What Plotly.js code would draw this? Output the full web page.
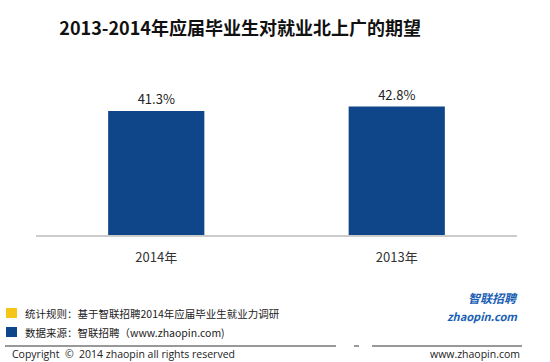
<!DOCTYPE html>
<html><head><meta charset="utf-8">
<script src="https://cdn.plot.ly/plotly-3.0.1.min.js"></script>
<style>html,body{margin:0;padding:0;background:#fff}#c{width:550px;height:362px}</style>
</head><body><div id="c"></div>
<script>
const categories = ["2014年", "2013年"];
const values = [41.3, 42.8];
const labels = ["41.3%", "42.8%"];
const titleText = "2013-2014年应届毕业生对就业北上广的期望";
const noteRule = "统计规则：基于智联招聘2014年应届毕业生就业力调研";
const noteSource = "数据来源：智联招聘（www.zhaopin.com)";
const copyright = "Copyright  ©  2014 zhaopin all rights reserved";
const site = "www.zhaopin.com";

const W = 550, H = 362, L = 36, R = 33, T = 85, B = 127;
const pw = W - L - R, ph = H - T - B;
const px = x => (x - L) / pw;
const py = y => (H - B - y) / ph;
const font = "'Noto Sans CJK SC', 'Noto Sans', sans-serif";
const latin = "'Open Sans', 'Noto Sans', sans-serif";

const trace = {
  type: "bar", x: categories, y: values, text: labels,
  textposition: "outside", texttemplate: "%{text}",
  textfont: {size: 13, color: "#222", family: font},
  marker: {color: "#0F4589"}, cliponaxis: false, hoverinfo: "none"
};

const ann = (x, y, text, opts) => Object.assign({
  xref: "paper", yref: "paper", x: px(x), y: py(y), text, showarrow: false,
  xanchor: "left", yanchor: "middle", borderpad: 0, font: {size: 10.5, color: "#222", family: font}
}, opts || {});

const layout = {
  width: W, height: H,
  margin: {l: L, r: R, t: T, b: B, pad: 0},
  paper_bgcolor: "#fff", plot_bgcolor: "#fff",
  showlegend: false, bargap: 0.6,
  title: {text: "<b>" + titleText + "</b>", x: px(246), xanchor: "center", y: 1 - 29 / H, yanchor: "middle",
          font: {size: 18, color: "#111", family: font}},
  xaxis: {showline: true, linecolor: "#cccccc", linewidth: 2, ticks: "", showgrid: false,
          tickfont: {size: 13, color: "#333", family: font}, ticklabelstandoff: 9, fixedrange: true},
  yaxis: {range: [0, 50], visible: false, showgrid: false, zeroline: false, fixedrange: true},
  shapes: [
    {type: "rect", xref: "paper", yref: "paper", x0: px(6), x1: px(17), y0: py(318), y1: py(308), fillcolor: "#F5C518", line: {width: 0}},
    {type: "rect", xref: "paper", yref: "paper", x0: px(6), x1: px(17), y0: py(337), y1: py(327), fillcolor: "#0F4589", line: {width: 0}},
    {type: "line", xref: "paper", yref: "paper", x0: px(5), x1: px(336), y0: py(346), y1: py(346), line: {color: "#333", width: 1}},
    {type: "line", xref: "paper", yref: "paper", x0: px(354), x1: px(359), y0: py(346), y1: py(346), line: {color: "#333", width: 1}},
    {type: "line", xref: "paper", yref: "paper", x0: px(372), x1: px(522), y0: py(346), y1: py(346), line: {color: "#333", width: 1}}
  ],
  annotations: [
    ann(24, 313, noteRule),
    ann(24, 332, noteSource),
    ann(11, 354, copyright, {font: {size: 10.5, color: "#222", family: latin}}),
    ann(521, 354, site, {xanchor: "right", font: {size: 10.5, color: "#222", family: latin}}),
    ann(519, 297, "<b><i>智联招聘</i></b>", {xanchor: "right", font: {size: 12, color: "#1a5fb4", family: font}}),
    ann(519, 316, "<b><i>zhaopin.com</i></b>", {xanchor: "right", font: {size: 11, color: "#1a5fb4", family: font}})
  ]
};

Plotly.newPlot("c", [trace], layout, {staticPlot: true, displayModeBar: false});
</script></body></html>
